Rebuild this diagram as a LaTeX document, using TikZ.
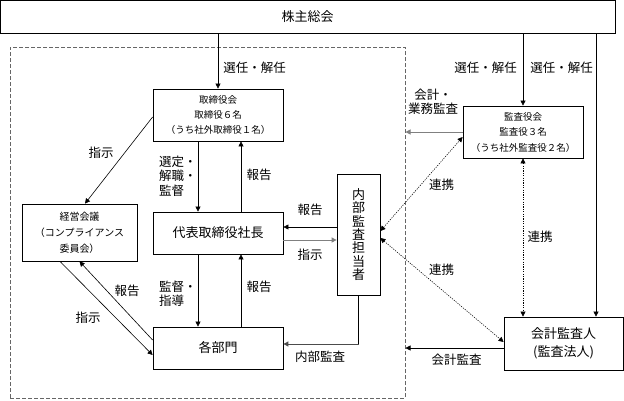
\documentclass[tikz,border=0pt]{standalone}
\usepackage{fontspec}
\setmainfont{Noto Sans CJK JP}
\usetikzlibrary{arrows.meta,calc}
\begin{document}
\begin{tikzpicture}[x=1pt,y=-1pt,
 box/.style={draw,line width=0.8pt,inner sep=0pt,align=center},
 arr/.style={line width=0.6pt,-{Triangle[length=5pt,width=5pt]}},
 garr/.style={arr,draw=black!50,line width=1pt},
 dotarr/.style={line width=0.55pt,dash pattern=on 1.2pt off 1.2pt,{Triangle[length=5pt,width=5pt]}-{Triangle[length=5pt,width=5pt]}},
 lbl/.style={font=\fontsize{12.5}{14.5}\selectfont,inner sep=0pt},
 big/.style={font=\fontsize{13}{15}\selectfont},
]
\useasboundingbox (0,0) rectangle (624,400);
\fill[white] (0,0) rectangle (624,400);

% boxes
\node[box,big,minimum width=615pt,minimum height=33pt] (top) at (307.5,16.5) {株主総会};
\node[draw=black!60,dash pattern=on 4pt off 2pt,line width=1pt,minimum width=395pt,minimum height=351pt,inner sep=0pt] (frame) at (207.5,222.5) {};
\node[box,minimum width=130pt,minimum height=52pt,font=\fontsize{9.5}{15}\selectfont] (board) at (218,115) {取締役会\\取締役６名\\（うち社外取締役１名）};
\node[box,big,minimum width=130pt,minimum height=42pt] (ceo) at (218,233) {代表取締役社長};
\node[box,minimum width=115pt,minimum height=57pt,font=\fontsize{10}{16}\selectfont] (keiei) at (79.5,232.5) {経営会議\\（コンプライアンス\\委員会）};
\node[box,big,minimum width=130pt,minimum height=42pt] (dept) at (218,348) {各部門};
\node[box,minimum width=43pt,minimum height=121pt,font=\fontsize{13}{13.3}\selectfont] (naibu) at (358.5,234.5) {内\\部\\監\\査\\担\\当\\者};
\node[box,minimum width=120pt,minimum height=52pt,font=\fontsize{9.5}{15.5}\selectfont] (kansa) at (523,132) {監査役会\\監査役３名\\（うち社外監査役２名）};
\node[box,minimum width=119pt,minimum height=53pt,font=\fontsize{13}{18}\selectfont] (kaikei) at (563.5,343.5) {会計監査人\\(監査法人)};

% helper coordinates
\coordinate (xl) at (198,0);
\coordinate (xr) at (241,0);
\coordinate (xa) at (596,0);
\coordinate (ya) at (0,227);
\coordinate (yb) at (0,240);
\coordinate (yc) at (0,344);
\coordinate (kw) at ($(kaikei.west)+(0,4.5)$);
\coordinate (nb) at (naibu.south |- yc);

% connectors
\draw[arr] (top.south -| board.north) -- (board.north);
\draw[arr] (top.south -| kansa.north) -- (kansa.north);
\draw[arr] (top.south -| xa) -- (kaikei.north -| xa);
\draw[arr] (board.south -| xl) -- (ceo.north -| xl);
\draw[arr] (ceo.north -| xr) -- (board.south -| xr);
\draw[arr] (ceo.south -| xl) -- (dept.north -| xl);
\draw[arr] (dept.north -| xr) -- (ceo.south -| xr);
\draw[arr] ($(board.west)+(0,2)$) -- ($(keiei.north)+(5.5,0)$);
\draw[arr] ($(dept.west)+(0,-8)$) -- (keiei.south);
\draw[arr] ($(keiei.south)+(-19.5,0)$) -- ($(dept.west)+(0,7)$);
\draw[arr] (naibu.west |- ya) -- (ceo.east |- ya);
\draw[garr] (ceo.east |- yb) -- (naibu.west |- yb);
\draw[line width=0.6pt] (naibu.south) -- (nb);
\draw[arr,draw=black!70,line width=0.9pt] (nb) -- (dept.east |- yc);
\draw[garr] (kansa.west) -- (kansa.west -| frame.east);
\draw[arr] (kw) -- (kw -| frame.east);
\draw[dotarr] ($(naibu.east)+(0,-3.5)$) -- ($(kansa.west)+(0,5)$);
\draw[dotarr] ($(naibu.east)+(0,3.5)$) -- ($(kaikei.west)+(0,-1.5)$);
\draw[dotarr] (kansa.south) -- (kaikei.north -| kansa.south);

% labels
\node[lbl] (l1) at (254.5,68) {選任・解任};
\node[lbl] (l2) at (485.5,68) {選任・解任};
\node[lbl] (l3) at (561.5,68) {選任・解任};
\node[lbl,align=center] (l4) at (433,102) {会計・\\業務監査};
\node[lbl] (l5) at (101,153) {指示};
\node[lbl,align=left,anchor=west] (l6) at (159,176) {選定・\\解職・\\監督};
\node[lbl] (l7) at (259,175) {報告};
\node[lbl,align=left,anchor=west] (l8) at (159,293.5) {監督・\\指導};
\node[lbl] (l9) at (259,287) {報告};
\node[lbl] (l10) at (127,291) {報告};
\node[lbl] (l11) at (88,318) {指示};
\node[lbl] (l12) at (310,210) {報告};
\node[lbl] (l13) at (310,255) {指示};
\node[lbl] (l14) at (320,357) {内部監査};
\node[lbl] (l15) at (441.5,185) {連携};
\node[lbl] (l16) at (441.5,270) {連携};
\node[lbl] (l17) at (540,237) {連携};
\node[lbl] (l18) at (456.5,360) {会計監査};
\end{tikzpicture}
\end{document}
